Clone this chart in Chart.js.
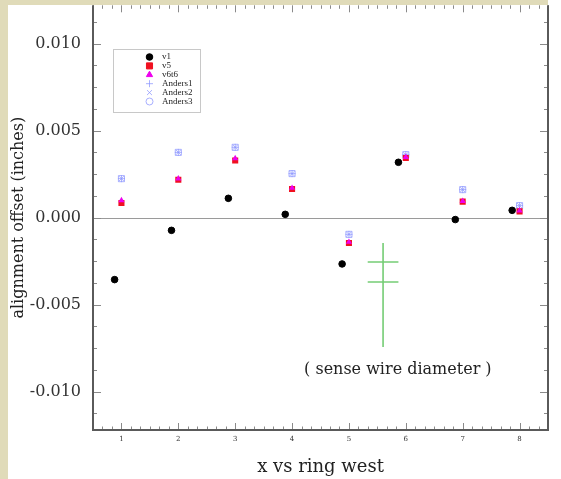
<!DOCTYPE html>
<html>
  <head>
    <title>x vs ring west</title>
    <style>
      body { margin: 0; background: #fff; }
    </style>
  </head>
  <body>
    <div style="width: 561px; height: 479px">
      <canvas id="canvas"></canvas>
    </div>
    <script src="https://cdn.jsdelivr.net/npm/chart.js@4"></script>
    <script>
      // values (inches)
      const rings = [1, 2, 3, 4, 5, 6, 7, 8];
      const v1X = [0.88, 1.88, 2.88, 3.88, 4.88, 5.87, 6.87, 7.87];
      const v1 = [-0.00356, -0.00073, 0.00111, 0.00019, -0.00266, 0.00318, -0.00011, 0.00042];
      const v5 = [0.00084, 0.00218, 0.00328, 0.00165, -0.00146, 0.00343, 0.00092, 0.00036];
      const v6t6 = [0.00099, 0.00224, 0.0034, 0.0017, -0.0014, 0.00348, 0.00095, 0.0004];
      const anders1 = [0.00224, 0.00375, 0.00404, 0.00253, -0.00096, 0.00362, 0.00161, 0.00069];
      const anders2 = [0.00224, 0.00375, 0.00404, 0.00253, -0.00096, 0.00362, 0.00161, 0.00069];
      const anders3 = [0.00224, 0.00375, 0.00404, 0.00253, -0.00096, 0.00362, 0.00161, 0.00069];
      const yTicks = [-0.01, -0.005, 0, 0.005, 0.01];

      // sense wire diameter marker
      const wireX = [5.6, 5.6];
      const wireY = [-0.00145, -0.00743];
      const wireEdgeX = [5.33, 5.87];
      const wireEdges = [-0.00255, -0.0037];
      const wireNote = "( sense wire diameter )";
      const wireNoteAt = [5.86, -0.00874];

      const pts = (xs, ys) => ys.map((y, i) => ({ x: xs[i], y: y }));
      const anders = "rgba(140, 150, 255, 0.75)";

      const datasets = [
        { label: "v1", data: pts(v1X, v1), pointStyle: "circle", pointRadius: 3.3,
          backgroundColor: "#000", borderColor: "#000", order: 2 },
        { label: "v5", data: pts(rings, v5), pointStyle: "rect", pointRadius: 4.3,
          backgroundColor: "#f01020", borderColor: "#f01020", borderWidth: 0, order: 4 },
        { label: "v6t6", data: pts(rings, v6t6), pointStyle: "triangle", pointRadius: 3.6,
          backgroundColor: "#ee00ee", borderColor: "#ee00ee", borderWidth: 0, order: 3 },
        { label: "Anders1", data: pts(rings, anders1), pointStyle: "cross", pointRadius: 3.5,
          backgroundColor: anders, borderColor: anders, borderWidth: 1, order: 5 },
        { label: "Anders2", data: pts(rings, anders2), pointStyle: "crossRot", pointRadius: 3.5,
          backgroundColor: anders, borderColor: anders, borderWidth: 1, order: 5 },
        { label: "Anders3", data: pts(rings, anders3), pointStyle: "rect", pointRadius: 4.3,
          backgroundColor: "rgba(0,0,0,0)", borderColor: anders, borderWidth: 1, order: 5 },
        { label: "wire", data: pts(wireX, wireY), showLine: true, pointRadius: 0,
          borderColor: "#74cc74", borderWidth: 1.6, order: 10 },
        { label: "wire", data: pts(wireEdgeX, [wireEdges[0], wireEdges[0]]), showLine: true, pointRadius: 0,
          borderColor: "#74cc74", borderWidth: 1.6, order: 10 },
        { label: "wire", data: pts(wireEdgeX, [wireEdges[1], wireEdges[1]]), showLine: true, pointRadius: 0,
          borderColor: "#74cc74", borderWidth: 1.6, order: 10 }
      ];

      const legendStyle = [
        { style: "circle", r: 3.3, fill: "#000", line: "#000" },
        { style: "rect", r: 4.3, fill: "#f01020", line: "#f01020" },
        { style: "triangle", r: 3.6, fill: "#ee00ee", line: "#ee00ee" },
        { style: "cross", r: 3.5, fill: anders, line: anders },
        { style: "crossRot", r: 3.5, fill: anders, line: anders },
        { style: "circle", r: 3.5, fill: "rgba(0,0,0,0)", line: anders }
      ];

      const frame = {
        id: "frame",
        beforeDraw(chart) {
          const ctx = chart.ctx;
          ctx.save();
          ctx.fillStyle = "#fff";
          ctx.fillRect(0, 0, chart.width, chart.height);
          ctx.fillStyle = "#e0dbb9";
          ctx.fillRect(0, 0, 8, chart.height);
          ctx.fillRect(0, 0, 548, 5);
          ctx.restore();
        },
        beforeDatasetsDraw(chart) {
          const { ctx, chartArea: a, scales } = chart;
          const x = scales.x, y = scales.y;
          ctx.save();
          // zero line
          ctx.strokeStyle = "#9a9a9a";
          ctx.lineWidth = 1;
          ctx.beginPath();
          ctx.moveTo(a.left, Math.round(y.getPixelForValue(0)) + 0.5);
          ctx.lineTo(a.right, Math.round(y.getPixelForValue(0)) + 0.5);
          ctx.stroke();
          // ticks
          ctx.strokeStyle = "#8a8a8a";
          ctx.beginPath();
          for (let k = -3; k <= 45; k++) {
            const v = 1 + k / 6;
            if (v < 0.5 || v > 8.5) continue;
            const px = Math.round(x.getPixelForValue(v)) + 0.5;
            const len = k % 6 === 0 ? 7 : 3.5;
            ctx.moveTo(px, a.bottom); ctx.lineTo(px, a.bottom - len);
            ctx.moveTo(px, a.top); ctx.lineTo(px, a.top + len);
          }
          for (let k = -9; k <= 9; k++) {
            const v = k * 0.00125;
            const py = Math.round(y.getPixelForValue(v)) + 0.5;
            const len = k % 4 === 0 ? 8 : 4;
            ctx.moveTo(a.left, py); ctx.lineTo(a.left + len, py);
            ctx.moveTo(a.right, py); ctx.lineTo(a.right - len, py);
          }
          ctx.stroke();
          // axes frame
          ctx.strokeStyle = "#5a5a5a";
          ctx.lineWidth = 2;
          ctx.beginPath();
          ctx.moveTo(a.left, a.top);
          ctx.lineTo(a.left, a.bottom);
          ctx.lineTo(a.right, a.bottom);
          ctx.lineTo(a.right, a.top);
          ctx.stroke();
          ctx.restore();
        },
        afterDatasetsDraw(chart) {
          const { ctx, scales } = chart;
          ctx.save();
          // note for the wire marker
          ctx.fillStyle = "#222";
          ctx.font = "16px 'DejaVu Serif'";
          ctx.textAlign = "center";
          ctx.textBaseline = "middle";
          ctx.fillText(wireNote, scales.x.getPixelForValue(wireNoteAt[0]),
            scales.y.getPixelForValue(wireNoteAt[1]));
          // legend box
          ctx.fillStyle = "#fff";
          ctx.fillRect(113, 49, 87, 63);
          ctx.strokeStyle = "#c8c8c8";
          ctx.lineWidth = 1;
          ctx.strokeRect(113.5, 49.5, 87, 63);
          ctx.font = "9px 'Liberation Serif'";
          ctx.textAlign = "left";
          legendStyle.forEach((s, i) => {
            const ly = 57 + i * 8.9;
            ctx.fillStyle = s.fill;
            ctx.strokeStyle = s.line;
            ctx.lineWidth = 1;
            Chart.helpers.drawPoint(ctx, { pointStyle: s.style, radius: s.r, rotation: 0, borderWidth: 1 }, 149.5, ly);
            ctx.fillStyle = "#222";
            ctx.fillText(datasets[i].label, 162, ly);
          });
          ctx.restore();
        }
      };

      new Chart(document.getElementById("canvas").getContext("2d"), {
        type: "scatter",
        data: { datasets: datasets },
        options: {
          responsive: true,
          maintainAspectRatio: false,
          animation: false,
          layout: { padding: { left: 0, right: 13, top: 5, bottom: 0 } },
          plugins: { legend: { display: false }, tooltip: { enabled: false } },
          scales: {
            x: {
              type: "linear",
              min: 0.5,
              max: 8.5,
              afterBuildTicks: (s) => { s.ticks = rings.map((v) => ({ value: v })); },
              afterFit: (s) => { s.height = 49; s.paddingLeft = 0; s.paddingRight = 0; },
              grid: { display: false, drawTicks: false },
              border: { display: false },
              ticks: { font: { family: "DejaVu Serif", size: 7 }, color: "#333", padding: 5 },
              title: { display: true, text: "x vs ring west", color: "#222",
                font: { family: "DejaVu Serif", size: 18 }, padding: { top: 0, bottom: 1 } }
            },
            y: {
              min: -0.0122,
              max: 0.0122,
              afterBuildTicks: (s) => { s.ticks = yTicks.map((v) => ({ value: v })); },
              afterFit: (s) => { s.width = 93; s.paddingTop = 0; s.paddingBottom = 0; },
              grid: { display: false, drawTicks: false },
              border: { display: false },
              ticks: { font: { family: "DejaVu Serif", size: 16 }, color: "#333", padding: 12,
                callback: (v) => v.toFixed(3) },
              title: { display: true, text: "alignment offset (inches)", color: "#222",
                font: { family: "DejaVu Serif", size: 16 }, padding: { top: 9, bottom: 0 } }
            }
          }
        },
        plugins: [frame]
      });
    </script>
  </body>
</html>
